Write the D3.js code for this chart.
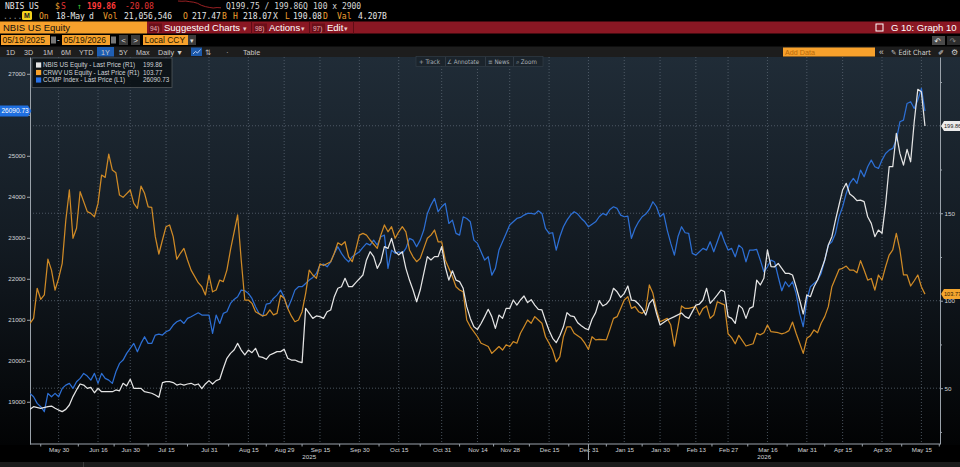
<!DOCTYPE html>
<html>
<head>
<meta charset="utf-8">
<script src="https://cdn.jsdelivr.net/npm/d3@7"></script>
<style>
  body { margin: 0; background: #000; overflow: hidden; }
  svg { display: block; font-family: "Liberation Sans", Arial, sans-serif; }
</style>
</head>
<body>
<script>
// ---- data ----
var tradingStart = "2025-05-19";
var tradingEnd = "2026-05-18";
var marketHolidays = ["2025-05-26","2025-06-19","2025-07-04","2025-09-01","2025-11-27",
  "2025-12-25","2026-01-01","2026-01-19","2026-02-16","2026-04-03"];
var tickDates = ["2025-05-30","2025-06-16","2025-06-30","2025-07-15","2025-07-31","2025-08-15",
  "2025-08-29","2025-09-15","2025-09-30","2025-10-15","2025-10-31","2025-11-14","2025-11-28",
  "2025-12-15","2025-12-31","2026-01-15","2026-01-30","2026-02-13","2026-02-27","2026-03-16",
  "2026-03-31","2026-04-15","2026-04-30","2026-05-15"];
var leftTicks = [19000,20000,21000,22000,23000,24000,25000,26000,27000];
var rightTicks = [50,100,150,200];
var rightMinor = [25,75,125,175,225];
var seriesNames = ["NBIS US Equity - Last Price (R1)","CRWV US Equity - Last Price (R1)","CCMP Index - Last Price (L1)"];

// [trading day, last price]
var nbis = [[0,37.9],[1,39.4],[3,38.5],[5,39.4],[6,39.8],[7,38.5],[8,37.5],[9,36.6],[10,37.9],[11,40.4],[12,45.2],[13,49.0],[14,52.4],[15,51.8],[16,49.9],[17,50.5],[18,47.4],[19,49.9],[20,48.0],[21,48.0],[23,48.0],[24,49.0],[25,48.5],[26,52.8],[27,51.3],[28,55.1],[29,49.9],[30,49.9],[31,49.9],[32,48.0],[34,47.1],[35,46.1],[36,44.8],[37,53.2],[38,53.7],[39,53.7],[40,53.2],[41,51.8],[42,52.4],[43,51.8],[44,52.4],[45,52.8],[46,51.8],[47,52.4],[48,49.7],[49,52.4],[50,54.3],[51,52.4],[52,54.3],[53,55.1],[54,61.4],[55,67.1],[56,69.9],[57,71.8],[58,75.6],[59,71.8],[60,69.0],[61,71.8],[62,70.3],[63,72.8],[64,68.0],[65,67.6],[66,66.5],[67,69.0],[68,69.9],[69,70.9],[70,70.9],[71,72.2],[72,67.1],[73,66.1],[74,66.1],[75,65.2],[76,64.6],[77,95.6],[78,92.8],[79,89.9],[80,91.3],[81,90.9],[82,89.9],[83,93.7],[84,94.7],[85,102.3],[86,107.1],[87,108.0],[88,112.8],[89,108.0],[90,108.0],[91,110.3],[93,114.7],[94,123.3],[95,128.0],[96,125.2],[97,118.5],[98,122.3],[99,130.9],[100,129.9],[101,135.6],[102,128.0],[103,126.2],[104,128.0],[105,118.5],[106,111.8],[107,106.1],[108,99.4],[109,106.1],[110,115.6],[111,125.2],[112,123.3],[113,125.2],[114,125.2],[115,130.9],[116,119.4],[117,111.8],[118,117.1],[119,111.8],[120,110.9],[121,107.1],[122,96.6],[123,89.9],[124,85.1],[125,83.6],[126,87.0],[127,90.9],[128,95.1],[129,90.9],[130,84.2],[131,91.8],[132,89.9],[133,95.6],[134,95.6],[135,100.4],[136,97.5],[137,100.4],[138,102.7],[139,98.9],[140,100.6],[141,97.5],[142,95.1],[143,94.7],[144,88.5],[145,83.0],[146,78.5],[147,76.0],[148,80.0],[149,85.1],[150,93.2],[151,91.3],[152,90.9],[153,87.4],[154,85.7],[155,84.2],[156,83.4],[157,89.4],[158,93.2],[159,100.0],[160,97.0],[161,98.1],[162,100.6],[163,107.1],[164,105.1],[165,101.9],[166,104.2],[167,108.4],[168,100.4],[169,100.0],[170,98.1],[171,95.6],[172,91.8],[173,98.5],[174,100.8],[175,92.8],[176,86.1],[178,89.0],[180,90.9],[182,93.0],[183,90.9],[184,89.9],[186,97.5],[187,98.1],[188,100.4],[189,107.1],[190,98.5],[191,100.8],[192,103.3],[193,106.1],[194,105.2],[195,90.9],[196,89.9],[197,87.0],[198,97.5],[199,95.6],[200,89.9],[201,95.6],[202,96.6],[203,111.8],[204,109.0],[205,112.8],[206,129.0],[207,119.5],[208,119.4],[209,121.3],[210,118.5],[211,115.6],[212,115.6],[213,114.7],[214,108.0],[215,100.4],[216,92.4],[217,103.3],[218,102.3],[219,108.0],[220,111.8],[221,117.5],[222,123.3],[223,131.8],[224,136.6],[225,146.1],[226,154.7],[227,163.3],[228,167.1],[229,161.0],[230,159.4],[231,157.2],[232,157.5],[233,156.6],[234,148.0],[235,144.2],[236,136.6],[237,140.4],[238,138.5],[239,155.0],[240,176.6],[241,176.6],[242,195.6],[243,184.2],[244,177.5],[245,186.5],[246,179.4],[247,202.3],[248,220.8],[249,219.4],[250,199.86]];

var crwv = [[0,87.1],[1,89.9],[2,107.1],[3,100.8],[4,103.3],[5,123.8],[6,117.5],[7,106.1],[8,112.8],[9,121.4],[10,146.0],[11,163.3],[12,135.7],[13,141.4],[14,162.3],[16,150.9],[17,149.9],[18,148.0],[19,155.6],[20,171.8],[21,170.5],[22,183.8],[23,174.7],[24,173.1],[25,160.4],[26,159.1],[28,163.3],[29,155.6],[30,152.8],[31,165.5],[32,161.4],[33,153.7],[34,153.4],[35,136.6],[36,126.7],[37,134.7],[38,142.3],[39,143.3],[40,136.6],[41,123.7],[42,127.1],[43,129.9],[44,123.3],[45,117.5],[47,110.3],[48,108.0],[49,103.3],[50,114.7],[51,105.1],[52,106.1],[53,111.8],[54,110.9],[55,117.5],[56,129.0],[58,149.0],[59,123.3],[60,100.4],[61,100.4],[62,98.5],[63,93.7],[65,91.3],[66,91.9],[67,94.7],[68,91.9],[69,92.8],[70,103.1],[71,101.4],[72,95.6],[73,91.3],[74,88.0],[75,89.0],[76,93.7],[77,104.2],[78,117.5],[79,114.7],[80,112.8],[81,121.1],[82,120.1],[84,122.3],[85,127.1],[86,133.1],[87,131.8],[88,133.7],[89,125.1],[90,122.3],[91,129.0],[92,137.5],[93,138.5],[94,137.5],[95,134.7],[97,129.9],[98,137.5],[99,143.3],[100,139.4],[101,142.3],[102,135.7],[103,139.4],[104,142.3],[105,139.4],[106,129.0],[107,125.1],[108,122.3],[109,124.2],[110,129.9],[111,135.7],[112,137.5],[113,140.4],[114,133.7],[115,133.7],[116,123.3],[117,118.5],[118,113.7],[119,108.0],[120,106.1],[121,105.1],[122,89.0],[123,85.1],[125,79.4],[126,75.7],[127,74.8],[128,73.8],[129,69.9],[130,71.8],[131,73.8],[132,71.8],[133,74.8],[134,73.8],[135,76.6],[136,75.7],[137,81.4],[138,85.1],[139,89.0],[140,87.1],[141,90.9],[142,89.0],[143,87.1],[144,79.4],[145,75.7],[146,71.8],[147,65.1],[148,67.9],[149,79.4],[150,85.1],[151,85.1],[152,81.4],[154,78.5],[155,75.7],[156,72.2],[157,79.4],[158,77.6],[159,77.9],[161,77.6],[162,83.6],[163,89.9],[164,90.9],[165,95.6],[166,100.4],[167,102.3],[168,95.6],[169,96.6],[170,93.7],[171,92.8],[172,94.7],[173,109.0],[174,104.2],[175,94.7],[176,88.0],[178,89.9],[179,86.1],[180,74.1],[181,85.1],[182,97.0],[183,95.6],[184,95.6],[186,96.6],[187,91.8],[188,95.6],[189,97.0],[190,89.9],[191,91.8],[192,99.4],[193,98.5],[194,97.6],[195,81.1],[196,78.9],[197,75.4],[198,80.2],[200,74.1],[202,75.4],[203,81.4],[204,80.5],[205,81.7],[206,86.1],[207,82.3],[209,81.7],[210,81.0],[211,81.7],[212,82.9],[213,87.8],[214,81.4],[215,75.7],[216,69.9],[217,78.5],[218,80.0],[219,83.3],[220,81.7],[221,87.1],[222,90.9],[223,96.6],[224,108.0],[226,117.9],[227,118.5],[228,119.8],[229,117.5],[230,117.5],[231,116.0],[232,122.9],[233,117.5],[234,111.8],[235,112.7],[236,106.1],[237,114.7],[238,111.8],[239,119.4],[240,126.1],[241,129.0],[242,138.5],[243,129.0],[244,114.7],[245,114.7],[246,108.4],[247,111.4],[248,114.7],[249,108.0],[250,103.77]];

var ccmp = [[0,19204],[1,19123],[2,18960],[3,18879],[4,18757],[5,19204],[6,19123],[7,19204],[8,19123],[9,19326],[10,19407],[11,19448],[12,19326],[13,19489],[14,19570],[15,19692],[16,19627],[17,19529],[18,19692],[19,19448],[20,19692],[21,19570],[22,19529],[23,19448],[24,19732],[25,19936],[26,20017],[27,20180],[28,20302],[29,20424],[30,20220],[31,20424],[32,20586],[33,20424],[34,20424],[35,20627],[36,20651],[37,20627],[38,20708],[39,20749],[40,20871],[41,20952],[42,20993],[43,20911],[44,21033],[45,21074],[47,21171],[48,21115],[49,21115],[50,21115],[51,20668],[52,21115],[53,20911],[54,21155],[55,21196],[56,21399],[57,21497],[58,21562],[59,21724],[60,21708],[61,21643],[62,21521],[63,21318],[64,21155],[65,21090],[66,21383],[67,21399],[68,21521],[69,21602],[70,21724],[71,21546],[72,21277],[73,21480],[74,21724],[75,21806],[76,21806],[77,21887],[78,21968],[79,22033],[80,22131],[81,22334],[82,22358],[83,22293],[84,22415],[85,22619],[86,22781],[87,22619],[88,22497],[89,22415],[90,22537],[92,22659],[93,22765],[94,22863],[95,22822],[96,22944],[97,22822],[98,23025],[99,23066],[100,22253],[101,22700],[102,22619],[103,22659],[104,22619],[105,22741],[106,22985],[107,22944],[108,22781],[109,22944],[110,23188],[111,23594],[112,23797],[113,23960],[114,23635],[115,23757],[116,23838],[117,23350],[118,23432],[119,23107],[120,23066],[121,23513],[122,23472],[123,23391],[124,22944],[125,22863],[126,22659],[127,22456],[128,22537],[129,22090],[130,22253],[131,22700],[132,22903],[133,23107],[134,23310],[135,23391],[136,23472],[137,23497],[138,23554],[139,23594],[140,23594],[141,23578],[142,23659],[143,23594],[144,23228],[145,23107],[146,23123],[147,22700],[148,23025],[149,23269],[150,23432],[151,23554],[152,23635],[153,23578],[154,23472],[155,23391],[156,23269],[158,23391],[159,23513],[160,23594],[161,23554],[162,23692],[163,23757],[164,23716],[165,23554],[166,23513],[167,23529],[168,22985],[169,23228],[170,23391],[171,23513],[172,23578],[173,23692],[174,23879],[175,23757],[176,23513],[177,23594],[178,23188],[179,22863],[180,22578],[181,23025],[182,23269],[183,23123],[184,23107],[185,22619],[186,22578],[187,22659],[188,22741],[189,22700],[190,22903],[191,22659],[192,22903],[193,23147],[194,22903],[195,22700],[196,22741],[197,22537],[198,22822],[199,22741],[200,22415],[201,22700],[202,22700],[203,22716],[204,22456],[205,22171],[206,22293],[207,22456],[208,22415],[209,22050],[210,21708],[211,21928],[212,21806],[213,21928],[214,21643],[215,21155],[216,20830],[217,21480],[218,21806],[219,21887],[220,21968],[221,22131],[222,22456],[223,22822],[224,22903],[225,23107],[226,23513],[227,23757],[228,24082],[229,24326],[230,24448],[231,24326],[232,24651],[233,24489],[234,24732],[235,24895],[236,24732],[237,24692],[238,24895],[239,25058],[240,25139],[241,25180],[242,25383],[243,25830],[244,25871],[245,26277],[246,26318],[247,26155],[248,26358],[249,26643],[250,26090.73]];

// tiny intraday sparkline in the header
var sparkline = [218.1,217.4,218.0,216.2,214.9,212.0,206.5,203.1,201.0,199.4,200.6,199.9];

// ---- setup ----
var W = 960, H = 467;
var plotTop = 57, plotBottom = 444, plotLeft = 30, plotRight = 940;
var orange = "#f7a12c", nbisColor = "#e4e4e4", crwvColor = "#cf8a26", ccmpColor = "#2d6fd4";

var parseDay = d3.utcParse("%Y-%m-%d");
var keyDay = d3.utcFormat("%Y-%m-%d");
var tickFmt = d3.utcFormat("%b %d");
var days = d3.utcDays(parseDay(tradingStart), d3.utcDay.offset(parseDay(tradingEnd), 1))
  .filter(function(d){ return d.getUTCDay() % 6 !== 0 && marketHolidays.indexOf(keyDay(d)) < 0; });
var dayIndex = new Map(days.map(function(d, i){ return [keyDay(d), i]; }));
var tickIdx = tickDates.map(function(s){ return dayIndex.get(s); });

var lastN = nbis[nbis.length - 1][1], lastC = crwv[crwv.length - 1][1], lastQ = ccmp[ccmp.length - 1][1];
var f2 = d3.format(".2f");

var svg = d3.select("body").append("svg").attr("width", W).attr("height", H);
var defs = svg.append("defs");
var grad = defs.append("linearGradient").attr("id", "bg").attr("x1", 0).attr("y1", 0).attr("x2", 0).attr("y2", 1);
[[0, "#202c37"], [0.45, "#141c24"], [1, "#020304"]].forEach(function(s){
  grad.append("stop").attr("offset", s[0]).attr("stop-color", s[1]);
});
defs.append("clipPath").attr("id", "plotClip").append("rect")
  .attr("x", plotLeft).attr("y", plotTop).attr("width", plotRight - plotLeft).attr("height", plotBottom - plotTop);

function txt(g, x, y, s, fill, size, extra) {
  var t = g.append("text").attr("x", x).attr("y", y).attr("fill", fill).attr("font-size", size).text(s);
  if (extra) Object.keys(extra).forEach(function(k){ t.attr(k, extra[k]); });
  return t;
}

// ---- header ----
var hdr = svg.append("g");
var mono = {"font-family": "'DejaVu Sans Mono', monospace"};
txt(hdr, 5, 8.5, "NBIS US", "#e6e6e6", 8, mono);
txt(hdr, 55, 8.5, "$", "#f0a030", 8, mono);
txt(hdr, 61, 8.5, "S", "#e53535", 8, mono);
txt(hdr, 77, 8.5, "\u2191", "#3cc23c", 8, mono);
txt(hdr, 87, 8.5, "199.86", "#ff3a3a", 8, {"font-family": "'DejaVu Sans Mono', monospace", "font-weight": "bold"});
txt(hdr, 125, 8.5, "-20.08", "#e03434", 8, mono);
txt(hdr, 226, 8.5, "Q199.75 / 199.86Q", "#d6d6d6", 8, mono);
txt(hdr, 313, 8.5, "100 x 2900", "#d6d6d6", 8, mono);

var sx = d3.scaleLinear().domain([0, sparkline.length - 1]).range([178, 221]);
var sy = d3.scaleLinear().domain(d3.extent(sparkline)).range([8, 1]);
hdr.append("path").datum(sparkline)
  .attr("d", d3.line().x(function(d, i){ return sx(i); }).y(function(d){ return sy(d); }))
  .attr("fill", "none").attr("stroke", "#c0282c").attr("stroke-width", 0.8);

txt(hdr, 3, 18.5, "....", "#8a8a8a", 8, mono);
hdr.append("rect").attr("x", 22).attr("y", 11).attr("width", 10).attr("height", 9).attr("rx", 1.5).attr("fill", "#f3d21c");
txt(hdr, 24, 18.3, "M", "#222", 7, {"font-weight": "bold"});
[[39, "On", 1], [56, "18-May", 0], [89, "d", 0], [103, "Vol", 1], [124, "21,056,546", 0],
 [183, "O", 1], [192, "217.47", 0], [222, "B", 1], [233, "H", 1], [243, "218.07", 0], [273, "X", 0],
 [285, "L", 1], [293, "190.08", 0], [323, "D", 1], [337, "Val", 1], [358, "4.207B", 0]].forEach(function(p){
  txt(hdr, p[0], 18.5, p[1], p[2] ? "#f0a030" : "#e6e6e6", 8, mono);
});

// title bar
hdr.append("rect").attr("x", 0).attr("y", 21.5).attr("width", 147).attr("height", 12).attr("fill", orange);
hdr.append("rect").attr("x", 147).attr("y", 21.5).attr("width", W - 147).attr("height", 12).attr("fill", "#8a1723");
txt(hdr, 3, 31.3, "NBIS US Equity", "#111", 9.5);
[[149, "94)", "Suggested Charts", 243], [254, "98)", "Actions", 301], [312, "97)", "Edit", 344]].forEach(function(m){
  hdr.append("rect").attr("x", m[0]).attr("y", 23.5).attr("width", 13).attr("height", 8.5).attr("fill", "#6b0f19");
  txt(hdr, m[0] + 1, 30.6, m[1], "#e7b3b8", 6.5);
  txt(hdr, m[0] + 15, 31.3, m[2], "#ffffff", 9.5);
  txt(hdr, m[3], 30.5, "\u25BE", "#e8c8cc", 6.5);
});
[251, 309, 353].forEach(function(xv){
  hdr.append("rect").attr("x", xv).attr("y", 21.5).attr("width", 1).attr("height", 12).attr("fill", "#5e0c15");
});
hdr.append("rect").attr("x", 876).attr("y", 24).attr("width", 7).attr("height", 7).attr("fill", "none").attr("stroke", "#fff").attr("stroke-width", 1);
txt(hdr, 891, 31.3, "G 10: Graph 10", "#ffffff", 9.5);

// date row
[[1, 49, "05/19/2025"], [62, 48, "05/19/2026"], [143, 45, "Local CCY"]].forEach(function(b){
  hdr.append("rect").attr("x", b[0]).attr("y", 35).attr("width", b[1]).attr("height", 10).attr("fill", orange);
  txt(hdr, b[0] + 1.5, 43.3, b[2], "#2a1a00", 8.5);
});
[51, 111].forEach(function(xv){
  hdr.append("rect").attr("x", xv).attr("y", 36.5).attr("width", 5).attr("height", 7).attr("fill", "#777");
});
txt(hdr, 57, 43, "-", "#ddd", 8.5);
[[119, "<"], [131, ">"]].forEach(function(b){
  hdr.append("rect").attr("x", b[0]).attr("y", 35).attr("width", 9).attr("height", 10).attr("fill", "#3b3b3b");
  txt(hdr, b[0] + 2.3, 43, b[1], "#ddd", 8);
});
hdr.append("rect").attr("x", 188).attr("y", 35).attr("width", 8).attr("height", 10).attr("fill", "#3b3b3b");
txt(hdr, 189.5, 42.5, "\u25BE", "#ddd", 7);
hdr.append("rect").attr("x", 932).attr("y", 36).attr("width", 13).attr("height", 9).attr("fill", "#4a4a4a");
hdr.append("rect").attr("x", 947).attr("y", 36).attr("width", 13).attr("height", 9).attr("fill", "#2c2c2c");
txt(hdr, 934.5, 43.5, "\u21B6", "#eee", 8, {"font-family": "DejaVu Sans"});
txt(hdr, 949.5, 43.5, "\u21B7", "#888", 8, {"font-family": "DejaVu Sans"});

// period buttons row
hdr.append("rect").attr("x", 0).attr("y", 46.5).attr("width", W).attr("height", 10.5).attr("fill", "#1d1d1d");
hdr.append("rect").attr("x", 97).attr("y", 47).attr("width", 17).attr("height", 9.5).attr("fill", "#1f5fb4");
[[6, "1D"], [24, "3D"], [43, "1M"], [61, "6M"], [79, "YTD"], [101, "1Y"], [119, "5Y"], [136, "Max"], [158, "Daily \u25BC"], [243, "Table"]]
  .forEach(function(b){ txt(hdr, b[0], 54.6, b[1], "#c9c9c9", 7.2); });
hdr.append("rect").attr("x", 191).attr("y", 47.5).attr("width", 11).attr("height", 8.5).attr("fill", "#1d5aab");
hdr.append("path").attr("d", "M193,54 L195.5,51.5 L197.5,53 L200.5,49.5").attr("fill", "none").attr("stroke", "#cfe0ff").attr("stroke-width", 0.8);
txt(hdr, 205, 54.6, "\u21C5", "#bbb", 7.5, {"font-family": "DejaVu Sans"});
txt(hdr, 226, 54.6, "\u00B7", "#bbb", 8);
hdr.append("rect").attr("x", 783).attr("y", 47.5).attr("width", 92).attr("height", 9).attr("fill", orange);
txt(hdr, 785, 54.6, "Add Data", "#b8690a", 7.2);
txt(hdr, 879, 54.8, "\u00AB", "#cfcfcf", 8.5);
txt(hdr, 891, 54.6, "\u270E Edit Chart", "#d2d2d2", 7.2, {"font-family": "DejaVu Sans Condensed, DejaVu Sans"});
txt(hdr, 938, 54.6, "\u2710", "#cfcfcf", 7.2, {"font-family": "DejaVu Sans"});
txt(hdr, 951, 54.8, "\u2699", "#cfcfcf", 8, {"font-family": "DejaVu Sans"});

// ---- chart ----
svg.append("rect").attr("x", 0).attr("y", plotTop).attr("width", W).attr("height", plotBottom - plotTop + 1).attr("fill", "url(#bg)");

var x = d3.scaleLinear().domain([0, days.length - 1 + 4.2]).range([plotLeft, plotRight]);
var yL = d3.scaleLinear().domain([17970, 27410]).range([plotBottom, plotTop]);
var yR = d3.scaleLinear().domain([18.1, 239.3]).range([plotBottom, plotTop]);

// gridlines
var grid = svg.append("g").attr("stroke", "#5a6672").attr("stroke-width", 0.8).attr("stroke-dasharray", "1,2");
grid.selectAll(".gv").data(tickIdx).enter().append("line")
  .attr("x1", function(d){ return x(d); }).attr("x2", function(d){ return x(d); })
  .attr("y1", plotTop).attr("y2", plotBottom);
grid.selectAll(".gh").data(rightTicks).enter().append("line")
  .attr("x1", plotLeft).attr("x2", plotRight)
  .attr("y1", function(d){ return yR(d); }).attr("y2", function(d){ return yR(d); });

function styleAxis(g, size) {
  g.selectAll(".domain").attr("stroke", "#9aa2aa");
  g.selectAll(".tick line").attr("stroke", "#9aa2aa");
  g.selectAll(".tick text").attr("fill", "#d2d5d8").attr("font-size", size)
    .attr("font-family", "'Liberation Sans Narrow', 'Liberation Sans', Arial, sans-serif");
}
// labels sitting right under a last-value flag are hidden by it, as on the terminal
function hideUnder(g, scale, flagValues) {
  g.selectAll(".tick text").filter(function(d){
    return flagValues.some(function(v){ return Math.abs(scale(d) - scale(v)) < 5; });
  }).remove();
}

var axL = svg.append("g").attr("transform", "translate(" + plotLeft + ",0)")
  .call(d3.axisLeft(yL).tickValues(leftTicks).tickSize(3).tickSizeOuter(0).tickPadding(1.5).tickFormat(d3.format("d")));
styleAxis(axL, 6.2);
hideUnder(axL, yL, [lastQ]);

var axR = svg.append("g").attr("transform", "translate(" + plotRight + ",0)")
  .call(d3.axisRight(yR).tickValues(rightTicks).tickSize(3).tickSizeOuter(0).tickPadding(1.5));
styleAxis(axR, 6.2);
hideUnder(axR, yR, [lastN, lastC]);
var axRm = svg.append("g").attr("transform", "translate(" + plotRight + ",0)")
  .call(d3.axisRight(yR).tickValues(rightMinor).tickSize(2).tickSizeOuter(0).tickFormat(""));
styleAxis(axRm, 6);
axRm.select(".domain").remove();

var axB = svg.append("g").attr("transform", "translate(0," + plotBottom + ")")
  .call(d3.axisBottom(x).tickValues(tickIdx).tickSize(0).tickSizeOuter(0).tickPadding(3.5)
    .tickFormat(function(i){ return tickFmt(days[i]); }));
styleAxis(axB, 6.2);
axB.select(".domain").attr("d", "M" + plotLeft + ",0H" + plotRight);

// minor x ticks between labels
var mids = [tickIdx[0] - 5].concat(tickIdx.slice(1).map(function(d, i){ return (d + tickIdx[i]) / 2; }));
mids.push(tickIdx[tickIdx.length - 1] + 5);
svg.append("g").selectAll("line").data(mids).enter().append("line")
  .attr("x1", function(d){ return x(d); }).attr("x2", function(d){ return x(d); })
  .attr("y1", plotBottom).attr("y2", plotBottom + 2.5).attr("stroke", "#9aa2aa");

// year labels and year divider
var yearBreak = dayIndex.get("2025-12-31");
svg.append("line").attr("x1", x(yearBreak)).attr("x2", x(yearBreak)).attr("y1", plotBottom).attr("y2", 460)
  .attr("stroke", "#9aa2aa");
[["2025", (plotLeft + x(yearBreak)) / 2], ["2026", (x(yearBreak) + plotRight) / 2]].forEach(function(p){
  txt(svg, p[1], 458.5, p[0], "#d2d5d8", 6.2, {"text-anchor": "middle"});
});
svg.append("rect").attr("x", 0).attr("y", 462).attr("width", W).attr("height", 5).attr("fill", "#1b1b1b");
svg.append("rect").attr("x", 83).attr("y", 462).attr("width", 1).attr("height", 5).attr("fill", "#3a3a3a");

// series lines
var lines = svg.append("g").attr("clip-path", "url(#plotClip)").attr("fill", "none").attr("stroke-width", 1.25)
  .attr("stroke-linejoin", "round");
var lineL = d3.line().x(function(d){ return x(d[0]); }).y(function(d){ return yL(d[1]); });
var lineR = d3.line().x(function(d){ return x(d[0]); }).y(function(d){ return yR(d[1]); });
lines.append("path").datum(ccmp).attr("d", lineL).attr("stroke", ccmpColor);
lines.append("path").datum(crwv).attr("d", lineR).attr("stroke", crwvColor);
lines.append("path").datum(nbis).attr("d", lineR).attr("stroke", nbisColor);

// toolbar overlay
var tb = svg.append("g");
tb.append("rect").attr("x", 416).attr("y", 56.5).attr("width", 127).attr("height", 10).attr("fill", "#1b242c").attr("stroke", "#36414b").attr("stroke-width", 0.6);
[[419, "+ Track"], [447, "\u2220 Annotate"], [488, "\u2261 News"], [516, "\u2315 Zoom"]].forEach(function(b){
  txt(tb, b[0], 63.8, b[1], "#a9b1b8", 6.2, {"font-family": "DejaVu Sans Condensed, DejaVu Sans"});
});
[445, 485, 513].forEach(function(xv){
  tb.append("rect").attr("x", xv).attr("y", 57).attr("width", 0.7).attr("height", 9).attr("fill", "#3a454f");
});

// legend
var leg = svg.append("g");
leg.append("rect").attr("x", 32).attr("y", 58).attr("width", 140).attr("height", 29.5)
  .attr("fill", "#0c1217").attr("fill-opacity", 0.92).attr("stroke", "#5b5f63").attr("stroke-width", 0.7);
[[nbisColor, seriesNames[0], lastN], [orange, seriesNames[1], lastC], ["#2a73e8", seriesNames[2], lastQ]].forEach(function(e, i){
  var cy = 65 + i * 7.5;
  leg.append("rect").attr("x", 36).attr("y", cy - 2.6).attr("width", 5.2).attr("height", 5.2).attr("fill", e[0]);
  txt(leg, 43, cy + 2.2, e[1], "#d0d3d6", 6.3);
  txt(leg, 143, cy + 2.2, f2(e[2]), "#d0d3d6", 6.3);
});

// last value flags
function flagLeft(y, label, fill, color) {
  svg.append("path").attr("d", "M0," + (y - 5.5) + "H28L31.5," + y + "L28," + (y + 5.5) + "H0Z").attr("fill", fill);
  txt(svg, 1.5, y + 2.2, label, color, 6.5);
}
function flagRight(y, label, fill, color) {
  svg.append("path").attr("d", "M" + (plotRight + 1) + "," + y + "L" + (plotRight + 4) + "," + (y - 5) + "H960V" + (y + 5) + "H" + (plotRight + 4) + "Z").attr("fill", fill);
  txt(svg, plotRight + 4, y + 2, label, color, 5.6);
}
flagLeft(yL(lastQ), f2(lastQ), "#1f6fe0", "#ffffff");
flagRight(yR(lastN), f2(lastN), "#ececec", "#1a1a1a");
flagRight(yR(lastC), f2(lastC), "#f3a52e", "#2a1a00");
</script>
</body>
</html>
